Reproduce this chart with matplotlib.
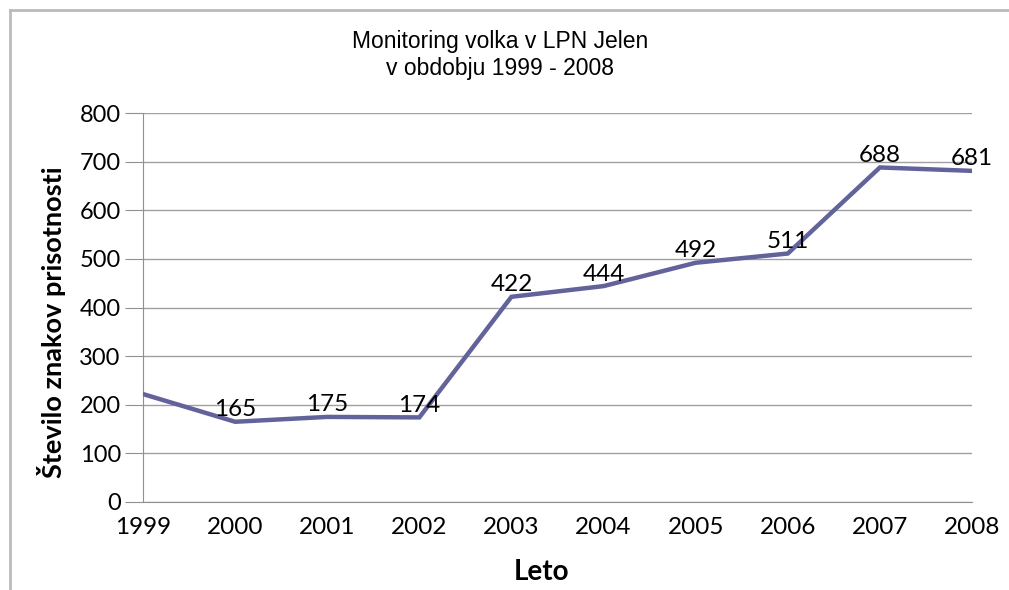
import matplotlib
matplotlib.use("Agg")
import matplotlib.pyplot as plt
from matplotlib.lines import Line2D

years = ["1999", "2000", "2001", "2002", "2003", "2004", "2005", "2006", "2007", "2008"]
values = [222, 165, 175, 174, 422, 444, 492, 511, 688, 681]
show_label = [False, True, True, True, True, True, True, True, True, True]
yticks = [0, 100, 200, 300, 400, 500, 600, 700, 800]
title = "Monitoring volka v LPN Jelen\nv obdobju 1999 - 2008"
ylabel = "Število znakov prisotnosti"
xlabel = "Leto"

W, H = 1009, 590
fig = plt.figure(figsize=(W / 100, H / 100), dpi=100)
ax = fig.add_axes([143 / W, 1 - 502 / H, (972 - 143) / W, (502 - 113) / H])

x = list(range(len(years)))
ax.plot(x, values, color="#62639b", lw=3.2, solid_joinstyle="miter", zorder=3)
for xi, v, s in zip(x, values, show_label):
    if s:
        ax.annotate(str(v), (xi, v), xytext=(0, 4), textcoords="offset points",
                    ha="center", va="baseline", fontsize=17.5, family="Lato", color="black", zorder=4)

ax.set_xlim(0, len(years) - 1)
ax.set_ylim(0, 800)
ax.set_yticks(yticks)
ax.set_xticks(x)
ax.set_xticklabels(years)
ax.grid(axis="y", color="#a0a0a0", lw=1)
ax.set_axisbelow(True)
for s in ["top", "right"]:
    ax.spines[s].set_visible(False)
for s in ["left", "bottom"]:
    ax.spines[s].set_color("#909090")
ax.tick_params(axis="y", length=13, color="#909090", labelsize=17, pad=3)
ax.tick_params(axis="x", length=0, labelsize=17.5, pad=11)
for lab in ax.get_xticklabels() + ax.get_yticklabels():
    lab.set_family("Lato")

fig.text(52 / W, 1 - 322 / H, ylabel, rotation=90, ha="center", va="center",
         fontsize=19.5, family="Lato", fontweight="bold")
fig.text(541 / W, 1 - 572 / H, xlabel, ha="center", va="center",
         fontsize=20, family="Lato", fontweight="bold")

fig.text(500 / W, 1 - 48 / H, "Monitoring volka v LPN Jelen", ha="center", va="baseline",
         fontsize=16.5, family="Liberation Sans")
fig.text(500 / W, 1 - 75 / H, "v obdobju 1999 - 2008", ha="center", va="baseline",
         fontsize=16.5, family="Liberation Sans")

# outer chart frame
fig.add_artist(Line2D([9.5 / W, 9.5 / W], [0, 1 - 9.5 / H], color="#bbbbbb", lw=2, transform=fig.transFigure))
fig.add_artist(Line2D([9.5 / W, 1], [1 - 9.5 / H, 1 - 9.5 / H], color="#bbbbbb", lw=2, transform=fig.transFigure))

fig.savefig("out.png", dpi=100)
